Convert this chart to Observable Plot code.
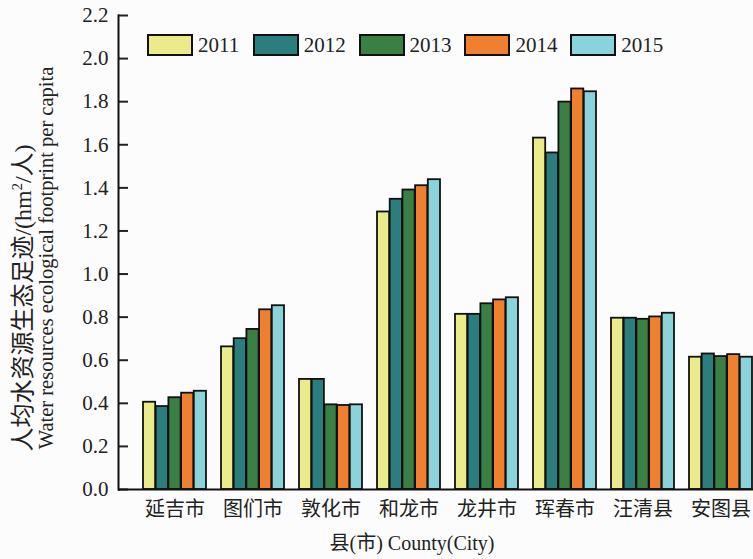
<!DOCTYPE html>
<html>
<head>
<meta charset="utf-8">
<script src="https://cdn.jsdelivr.net/npm/d3@7"></script>
<script src="https://cdn.jsdelivr.net/npm/@observablehq/plot@0.6"></script>
<style>
  html, body { margin: 0; padding: 0; background: #fcfcfc; }
  #wrap { position: relative; width: 753px; height: 559px; overflow: hidden; background: #fcfcfc;
          font-family: "Liberation Serif", "Noto Sans CJK SC", serif; color: #222; }
  #chart svg { display: block; }
  #chart svg, #chart svg text { font-family: "Liberation Serif", "Noto Sans CJK SC", serif !important; }
  .ylab { position: absolute; white-space: nowrap; transform: translate(-50%, -50%) rotate(-90deg); line-height: 1; }
  #legend { position: absolute; left: 147px; top: 34px; display: flex; }
  .item { display: flex; align-items: center; width: 105.8px; }
  .sw { width: 42px; height: 18px; border: 2px solid #111; margin-right: 5px; }
  .item span { font-size: 21px; line-height: 1; }
  #xtitle { position: absolute; top: 531px; left: 412px; transform: translateX(-50%); font-size: 20px; white-space: nowrap; line-height: 1.2; }
</style>
</head>
<body>
<div id="wrap">
  <div id="chart"></div>
  <div id="legend"></div>
  <div class="ylab" id="ylab1" style="left:22px; top:298px; font-size:24px;"></div>
  <div class="ylab" id="ylab2" style="left:46px; top:258px; font-size:20.5px;"></div>
  <div id="xtitle"></div>
</div>
<script>
const counties = ["延吉市", "图们市", "敦化市", "和龙市", "龙井市", "珲春市", "汪清县", "安图县"];
const years = ["2011", "2012", "2013", "2014", "2015"];
const v2011 = [0.405, 0.662, 0.511, 1.288, 0.813, 1.631, 0.795, 0.614];
const v2012 = [0.385, 0.700, 0.511, 1.347, 0.813, 1.562, 0.795, 0.629];
const v2013 = [0.426, 0.743, 0.393, 1.390, 0.862, 1.798, 0.790, 0.617];
const v2014 = [0.447, 0.834, 0.390, 1.410, 0.880, 1.859, 0.801, 0.626];
const v2015 = [0.456, 0.853, 0.393, 1.438, 0.890, 1.846, 0.818, 0.614];
const colors = ["#ebeb8b", "#2b7e7d", "#3a7f44", "#f07f30", "#8ad3da"];
const yTicks = [0, 0.2, 0.4, 0.6, 0.8, 1.0, 1.2, 1.4, 1.6, 1.8, 2.0, 2.2];
const yLabel1 = "人均水资源生态足迹/(hm²/人)";
const yLabel2 = "Water resources ecological footprint per capita";
const xLabel = "县(市) County(City)";

const series = [v2011, v2012, v2013, v2014, v2015];
const data = years.map((yr, i) => counties.map((c, j) => ({county: c, year: yr, value: series[i][j]})));

const width = 753, height = 559;
const marginLeft = 118, marginRight = -24, marginTop = 15, marginBottom = 70;
const paddingInner = 0.191, paddingOuter = 0.293;
const step = (width - marginRight - marginLeft) / (counties.length - paddingInner + 2 * paddingOuter);
const barW = step * (1 - paddingInner) / years.length;

const chart = Plot.plot({
  width, height, marginLeft, marginRight, marginTop, marginBottom,
  style: {background: "#fcfcfc", fontSize: "20px", color: "#222"},
  x: {domain: counties, paddingInner, paddingOuter, label: null},
  y: {domain: [0, 2.2], label: null},
  color: {domain: years, range: colors},
  marks: [
    ...years.map((yr, i) => Plot.barY(data[i], {
      x: "county", y: "value", fill: colors[i], stroke: "#111", strokeWidth: 1.8,
      insetLeft: i * barW, insetRight: (years.length - 1 - i) * barW
    })),
    Plot.axisY({ticks: yTicks, tickFormat: d => d.toFixed(1), tickSize: -10, tickPadding: 20, strokeWidth: 2, fontSize: 21, label: null}),
    Plot.axisX({tickSize: 0, tickPadding: 12, fontSize: 20, label: null}),
    Plot.frame({anchor: "left", strokeWidth: 2, stroke: "#111"}),
    Plot.ruleY([0], {strokeWidth: 2, stroke: "#111"})
  ]
});
document.getElementById("chart").appendChild(chart);

const legend = document.getElementById("legend");
years.forEach((yr, i) => {
  const it = document.createElement("div");
  it.className = "item";
  const sw = document.createElement("div");
  sw.className = "sw";
  sw.style.background = colors[i];
  const t = document.createElement("span");
  t.textContent = yr;
  it.appendChild(sw); it.appendChild(t);
  legend.appendChild(it);
});
document.getElementById("ylab1").innerHTML = yLabel1.replace("²", "<sup style='font-size:0.6em'>2</sup>");
document.getElementById("ylab2").textContent = yLabel2;
document.getElementById("xtitle").textContent = xLabel;
</script>
</body>
</html>
